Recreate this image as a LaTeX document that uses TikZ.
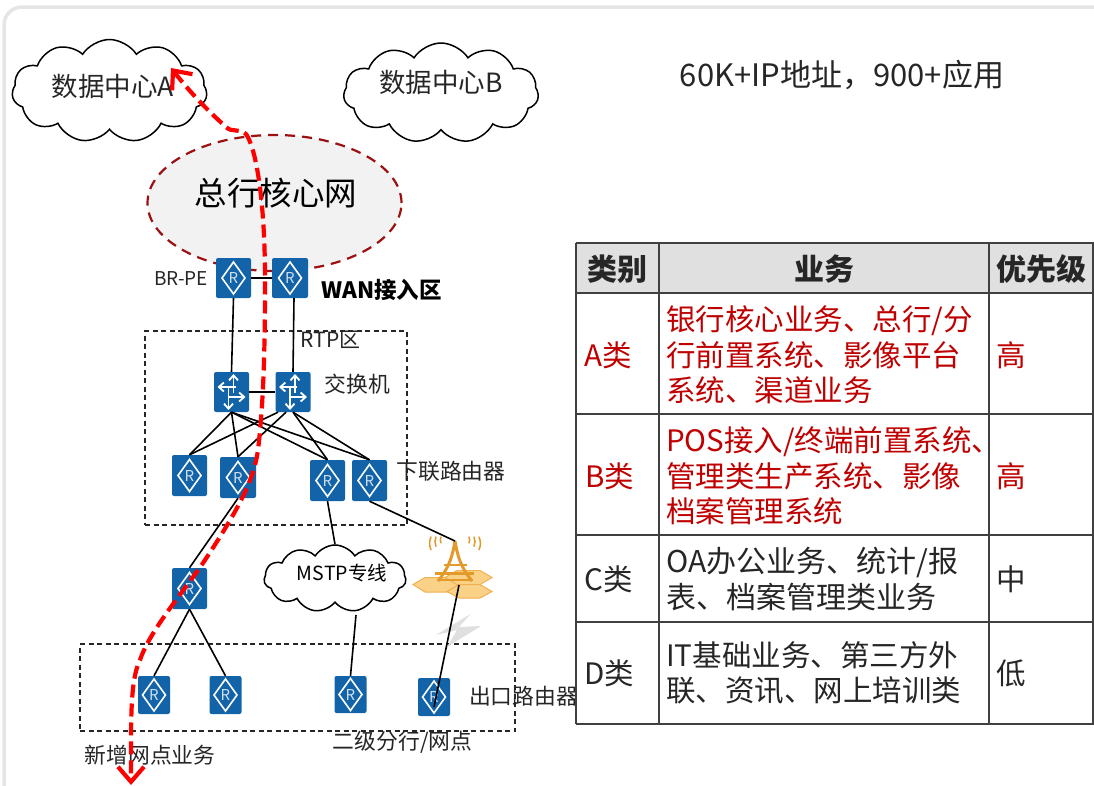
\documentclass[tikz,border=0pt]{standalone}
\usepackage{fontspec}
\setmainfont{Noto Sans CJK SC}
\usetikzlibrary{shapes.symbols,shapes.geometric,arrows.meta,calc}
\definecolor{devblue}{HTML}{1363A9}
\definecolor{inkc}{HTML}{262626}
\definecolor{redc}{HTML}{C00000}
\definecolor{tline}{HTML}{404040}
\definecolor{towerc}{HTML}{E39A2B}
\tikzset{
  devbox/.style={fill=devblue,rounded corners=2pt,inner sep=0pt},
  wire/.style={draw=black,line width=1.6pt},
  zone/.style={draw=inkc,line width=1.1pt,dash pattern=on 5pt off 3.5pt},
  cloudshape/.style={cloud,draw=black,fill=white,line width=1.5pt,cloud puffs=11,cloud puff arc=115,inner sep=0pt},
  lbl/.style={inner sep=0pt,text=inkc},
  cell/.style={inner sep=0pt,anchor=west,align=left,font=\fontsize{29.5}{35.6}\selectfont},
  redcell/.style={cell,text=redc},
  blackcell/.style={cell,text=inkc},
  headcell/.style={inner sep=0pt,text=inkc,font=\fontsize{30}{35}\selectfont\bfseries},
  tbl/.style={draw=tline,line width=2pt},
  flow/.style={draw=red,line width=4.2pt,dash pattern=on 13pt off 6pt,
    {Straight Barb[length=15pt,width=26pt,line width=4.2pt]}-{Straight Barb[length=15pt,width=26pt,line width=4.2pt]}},
  swarrow/.style={draw=white,line width=1.8pt,-{Straight Barb[length=5pt,width=9pt]}},
}
% name, x, y, w, h
\newcommand{\routerdev}[5]{%
  \node[devbox,minimum width=#4pt,minimum height=#5pt] (#1) at (#2,#3) {};
  \draw[white,line width=1.6pt] ($(#1)+(0,-16)$) -- ($(#1)+(11.5,0)$) -- ($(#1)+(0,16)$) -- ($(#1)+(-11.5,0)$) -- cycle;
  \node[inner sep=0pt,text=white!80!devblue,font=\fontsize{15}{16}\selectfont] (#1-r) at (#1) {R};
}
\newcommand{\switchdev}[3]{%
  \node[devbox,minimum width=35pt,minimum height=40pt] (#1) at (#2,#3) {};
  \draw[swarrow] ($(#1)+(2,1)$) -- ($(#1)+(2,-18)$);
  \draw[swarrow] ($(#1)+(-3,-5)$) -- ($(#1)+(-3,18)$);
  \draw[swarrow] ($(#1)+(4,-5)$) -- ($(#1)+(-14,-5)$);
  \draw[swarrow] ($(#1)+(-4,5)$) -- ($(#1)+(14,5)$);
}
\begin{document}
\begin{tikzpicture}[x=1pt,y=-1pt]
\useasboundingbox (0,0) rectangle (1094,785);
\clip (0,0) rectangle (1094,785);
\fill[white] (0,0) rectangle (1094,785);
% page frame
\draw[draw=black!10,line width=3.5pt,rounded corners=18pt] (4,800) -- (4,7) -- (1110,7);

% clouds
\node[cloudshape,aspect=1.9,minimum width=195pt,minimum height=103pt] (cloudA) at (109.5,91) {};
\node[lbl,font=\fontsize{26.5}{30}\selectfont] (cloudAt) at (113,86) {数据中心A};
\node[cloudshape,aspect=1.9,minimum width=195pt,minimum height=100pt] (cloudB) at (441,93) {};
\node[lbl,font=\fontsize{26.5}{30}\selectfont] (cloudBt) at (441,82) {数据中心B};
\node[lbl,font=\fontsize{31}{34}\selectfont] (title) at (842,75) {60K+IP地址，900+应用};

% core network
\node[ellipse,draw={rgb,255:red,155;green,16;blue,16},fill=black!5,line width=2.2pt,dash pattern=on 10pt off 7pt,
  minimum width=254pt,minimum height=136pt,inner sep=0pt] (core) at (274.5,203) {};
\node[lbl,text=black,font=\fontsize{32.5}{36}\selectfont] (coret) at (276,193) {总行核心网};

% zones
\node[zone,minimum width=262pt,minimum height=194pt,inner sep=0pt] (rtpzone) at (276,428) {};
\node[zone,minimum width=435pt,minimum height=87pt,inner sep=0pt] (exitzone) at (297.5,687.5) {};

% devices
\routerdev{pe1}{233.5}{278}{35}{40}
\routerdev{pe2}{290}{278}{36}{40}
\switchdev{sw1}{231.5}{392}
\switchdev{sw2}{293}{392}
\routerdev{r1}{189.5}{475.5}{35}{41}
\routerdev{r2}{238}{477.5}{36}{41}
\routerdev{r3}{327.5}{480.5}{35}{41}
\routerdev{r4}{369.5}{480.5}{35}{41}
\routerdev{m1}{189.5}{588.5}{35}{41}
\routerdev{b1}{154}{695}{32}{38}
\routerdev{b2}{225.5}{695}{32}{38}
\routerdev{b3}{350.5}{694.5}{32}{37}
\routerdev{b4}{434}{697}{32}{38}

% MSTP cloud
\node[cloudshape,aspect=2.1,minimum width=142pt,minimum height=67pt] (mstp) at (335,578.5) {};
\node[lbl,text=black,font=\fontsize{19.5}{22}\selectfont] (mstpt) at (342,573) {MSTP专线};

% tower
\fill[fill={rgb,255:red,250;green,210;blue,135},draw={rgb,255:red,240;green,175;blue,80},line width=1pt]
  (413,584.5) -- (425,577.5) -- (447,577.5) -- (459,584.5) -- (447,592) -- (425,592) -- cycle;
\fill[fill={rgb,255:red,250;green,210;blue,135},draw={rgb,255:red,240;green,175;blue,80},line width=1pt]
  (445,577.5) -- (457,570.5) -- (480,570.5) -- (492,577.5) -- (480,584.5) -- (457,584.5) -- cycle;
\fill[fill={rgb,255:red,250;green,210;blue,135},draw={rgb,255:red,240;green,175;blue,80},line width=1pt]
  (447,591.5) -- (459,584.5) -- (480,584.5) -- (492,591.5) -- (480,598) -- (459,598) -- cycle;
\coordinate (towertop) at (455,541);
\coordinate (towerbase) at (459,585);
\draw[towerc,line width=3pt] (towertop) .. controls (452,560) and (447,570) .. (438,581)
  (towertop) .. controls (458,560) and (463,570) .. (472,581);
\draw[towerc,line width=2.2pt] (444,565) -- (467,565);
\draw[towerc,line width=3.2pt] (435,573.5) -- (474,573.5);
\draw[towerc,line width=1.8pt] (437,580) -- (473,580);
\draw[towerc,line width=1.5pt,line cap=round]
  (441,537) arc[start angle=205,end angle=155,radius=7]
  (436,537) arc[start angle=205,end angle=155,radius=11]
  (431,537) arc[start angle=205,end angle=155,radius=15]
  (469,537) arc[start angle=-25,end angle=25,radius=7]
  (474,537) arc[start angle=-25,end angle=25,radius=11]
  (479,537) arc[start angle=-25,end angle=25,radius=15];
% lightning
\fill[black!12] (470.5,614) -- (436,635) -- (457,630) -- (447,647) -- (481,626) -- (459,627) -- cycle;

% wires
\draw[wire] (pe1) -- (pe2);
\draw[wire] (sw1) -- (sw2);
\draw[wire] (pe1.south) -- (sw1.north);
\draw[wire] ([xshift=4pt]pe2.south) -- (sw2.north);
\draw[wire] (sw1.south) -- (r1.north);
\draw[wire] (sw1.south) -- (r2.north);
\draw[wire] (sw1.south) -- (r3.north);
\draw[wire] (sw1.south) -- (r4.north);
\draw[wire] ([xshift=-15pt]sw2.south) -- (r1.north);
\draw[wire] ([xshift=-7pt]sw2.south) -- (r2.north);
\draw[wire] (sw2.south) -- (r3.north);
\draw[wire] (sw2.south) -- (r4.north);
\draw[wire] (r2.south) -- (m1.north);
\draw[wire] (m1.south) -- (b1.north);
\draw[wire] (m1.south) -- (b2.north);
\draw[wire] (r3.south) -- (mstp.north);
\draw[wire] (r4.south) -- (towertop);
\coordinate (mstpfoot) at (356,615);
\draw[wire] (mstpfoot) -- (b3.north);
\draw[wire] (towerbase) -- ([yshift=-10pt]b4.center);

% labels
\node[lbl,font=\fontsize{19}{22}\selectfont] (lpe) at (181,279) {BR-PE};
\node[lbl,text=black,font=\fontsize{22.5}{26}\selectfont\bfseries] (lwan) at (381.5,290) {WAN接入区};
\node[lbl,font=\fontsize{21}{24}\selectfont] (lrtp) at (330.5,340) {RTP区};
\node[lbl,font=\fontsize{21.8}{24}\selectfont] (lsw) at (357.5,384) {交换机};
\node[lbl,font=\fontsize{21.8}{24}\selectfont] (ldown) at (451,471) {下联路由器};
\node[lbl,font=\fontsize{21.8}{24}\selectfont] (lexit) at (523.5,696) {出口路由器};
\node[lbl,font=\fontsize{21.8}{24}\selectfont] (lbranch) at (402.5,742) {二级分行/网点};
\node[lbl,font=\fontsize{21.8}{24}\selectfont] (lnew) at (150,755) {新增网点业务};

% table
\fill[black!12] (576,243) rectangle (1094,293);
\draw[tbl] (576,243) -- (1094,243) (576,293) -- (1094,293) (576,414) -- (1094,414)
  (576,535) -- (1094,535) (576,622) -- (1094,622) (576,724) -- (1094,724);
\draw[tbl] (576,243) -- (576,724) (659,243) -- (659,724) (989,243) -- (989,724) (1093,243) -- (1093,724);
\node[headcell] (h1) at (617.5,269) {类别};
\node[headcell] (h2) at (824,269) {业务};
\node[headcell] (h3) at (1041,269) {优先级};
\node[redcell] (a1) at (584,355) {A类};
\node[redcell] (a2) at (666,355) {银行核心业务、总行/分\\行前置系统、影像平台\\系统、渠道业务};
\node[redcell] (a3) at (996,355) {高};
\node[redcell] (b1) at (585,476) {B类};
\node[redcell] (b2) at (666,476) {POS接入/终端前置系统、\\管理类生产系统、影像\\档案管理系统};
\node[redcell] (b3) at (996,476) {高};
\node[blackcell] (c1) at (584,579) {C类};
\node[blackcell,font=\fontsize{30}{35.6}\selectfont] (c2) at (666,579) {OA办公业务、统计/报\\表、档案管理类业务};
\node[blackcell] (c3) at (996,579) {中};
\node[blackcell] (d1) at (584,673) {D类};
\node[blackcell] (d2) at (666,673) {IT基础业务、第三方外\\联、资讯、网上培训类};
\node[blackcell] (d3) at (996,673) {低};

% red flow
\coordinate (flowtop) at (171,68);
\coordinate (flowbottom) at (131,785);
\draw[flow] (flowtop) .. controls (190,92) and (205,108) .. (226,127)
  .. controls (232,133) and (240,128) .. (246,134)
  .. controls (256,148) and (265,200) .. (265,280)
  .. controls (265,340) and (264,400) .. (258,450)
  .. controls (254,480) and (238,510) .. (205,560)
  .. controls (185,590) and (150,630) .. (140,660)
  .. controls (130,680) and (131,720) .. (flowbottom);
\end{tikzpicture}
\end{document}
